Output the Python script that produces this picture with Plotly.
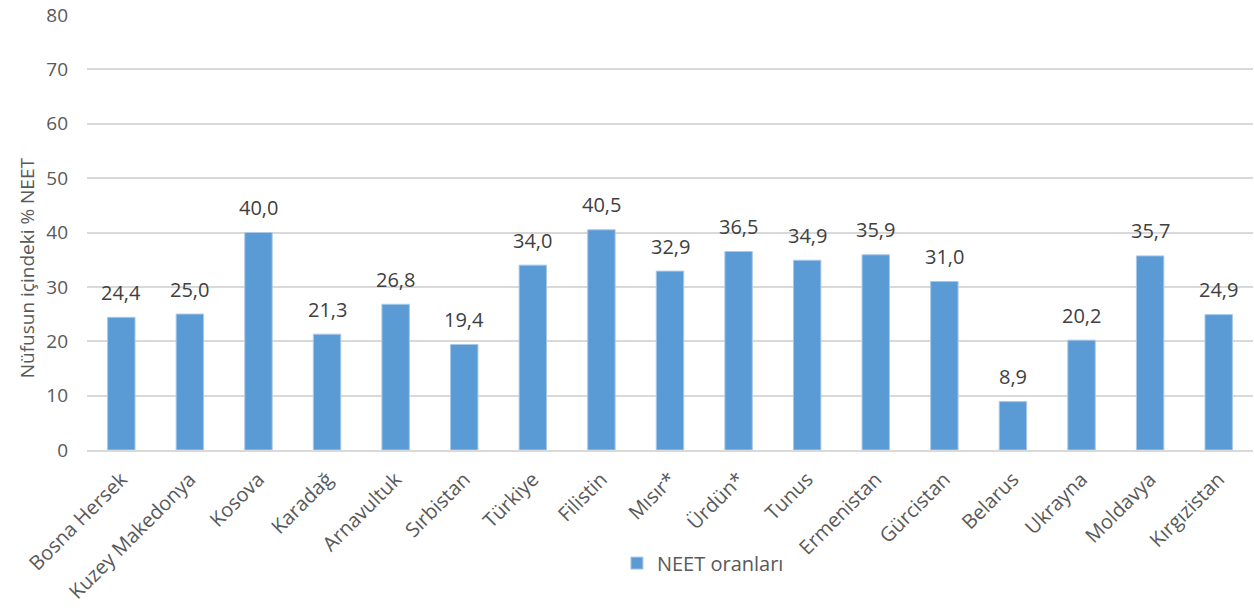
import plotly.graph_objects as go

countries = ["Bosna Hersek", "Kuzey Makedonya", "Kosova", "Karadağ", "Arnavultuk",
             "Sırbistan", "Türkiye", "Filistin", "Mısır*", "Ürdün*", "Tunus",
             "Ermenistan", "Gürcistan", "Belarus", "Ukrayna", "Moldavya", "Kırgızistan"]
neet = [24.4, 25.0, 40.0, 21.3, 26.8, 19.4, 34.0, 40.5, 32.9, 36.5, 34.9,
        35.9, 31.0, 8.9, 20.2, 35.7, 24.9]
y_ticks = [0, 10, 20, 30, 40, 50, 60, 70, 80]
series_name = "NEET oranları"
y_title = "Nüfusun içindeki % NEET"

grey = "#595959"
font_family = "Open Sans, Liberation Sans, sans-serif"

fig = go.Figure()
fig.add_trace(go.Bar(
    x=countries, y=neet, name=series_name,
    marker=dict(color="#5b9bd5", line=dict(color="#a9c8e8", width=1)),
    width=0.4,
))

for c, v in zip(countries, neet):
    fig.add_annotation(x=c, y=v, text=f"{v:.1f}".replace(".", ","), showarrow=False,
                       yanchor="middle", yshift=25,
                       font=dict(size=20, color="#404040", family=font_family))

fig.update_layout(
    width=1254, height=611,
    margin=dict(l=87, r=1, t=15, b=161),
    plot_bgcolor="white", paper_bgcolor="white",
    font=dict(family=font_family, color=grey),
    showlegend=True,
    legend=dict(orientation="h", x=0.4545, xanchor="left", y=-0.26, yanchor="middle",
                font=dict(size=20, color=grey)),
)
fig.update_yaxes(range=[0, 80], tickvals=y_ticks, showgrid=True, gridcolor="#d9d9d9",
                 gridwidth=1.5, zeroline=False, tickfont=dict(size=19, color=grey),
                 ticks="", showline=False, automargin=False,
                 ticklabeloverflow="allow", ticklabelstandoff=18)
fig.update_xaxes(tickangle=-45, tickfont=dict(size=20, color=grey), showline=True,
                 linecolor="#d9d9d9", linewidth=1.5, ticks="", automargin=False,
                 ticklabeloverflow="allow", ticklabelstandoff=8)
fig.add_annotation(text=y_title, textangle=-90, xref="paper", yref="paper",
                   x=-0.0515, y=0.42, xanchor="center", yanchor="middle", showarrow=False,
                   font=dict(size=19, color=grey, family=font_family))

fig.write_html("out.html", config={"displayModeBar": False},
               post_script="document.body.style.margin='0';")
